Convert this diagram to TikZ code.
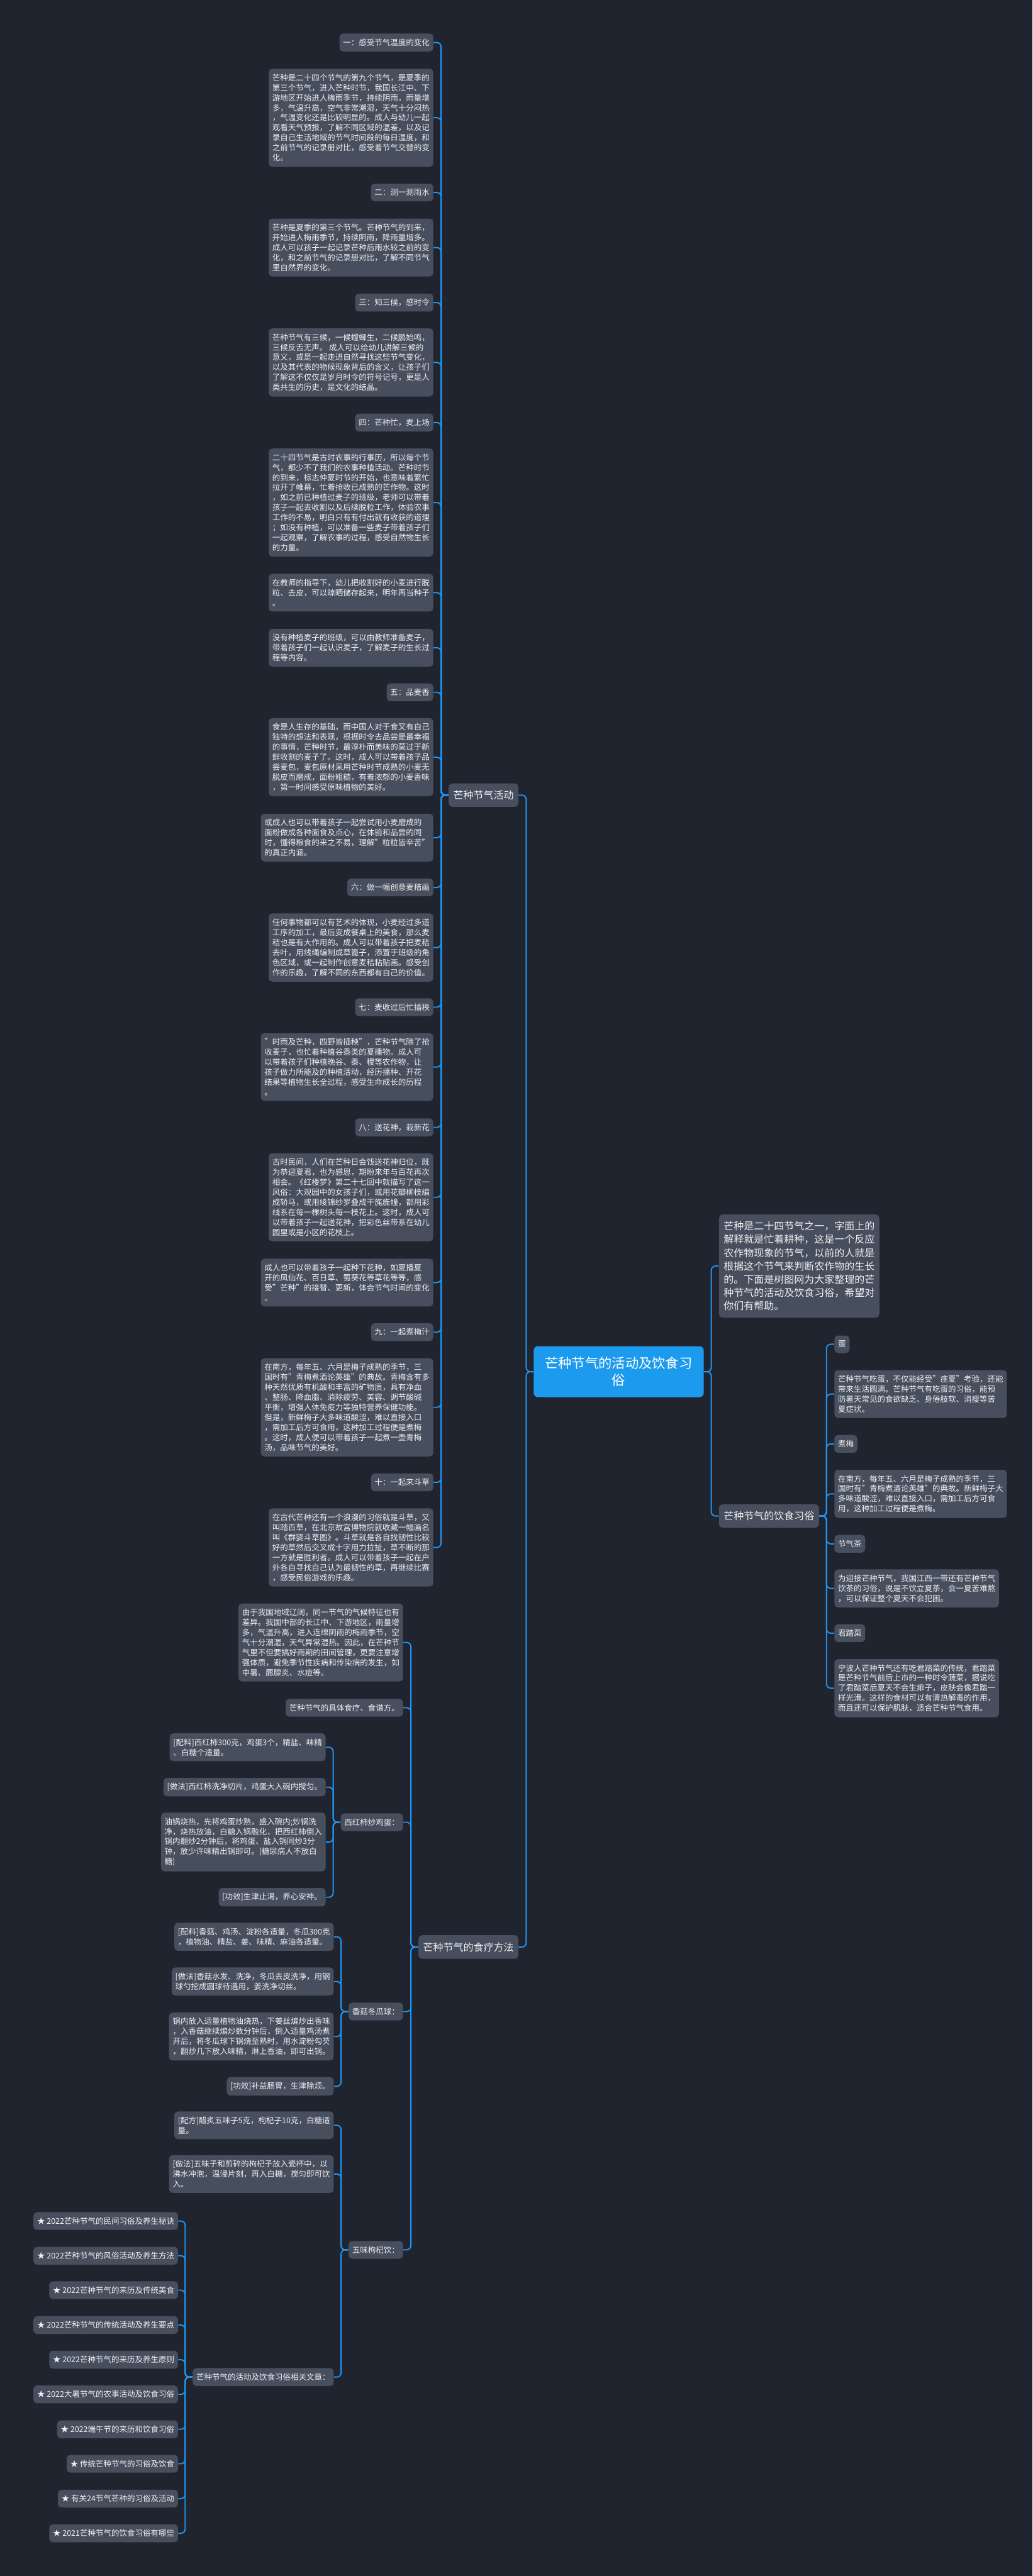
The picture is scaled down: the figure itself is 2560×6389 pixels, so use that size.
\documentclass[tikz,border=0pt]{standalone}
\usepackage{fontspec}
\setmainfont{Noto Sans CJK SC}
\usepackage{tikz}
\usepackage{xcolor}

\definecolor{bgnavy}{HTML}{20242F}
\definecolor{cardgray}{HTML}{474E5E}
\definecolor{cardtext}{HTML}{F0F0F0}
\definecolor{linkblue}{HTML}{2196F3}
\definecolor{rootblue}{HTML}{1C9AEE}

\newcommand\cardfont{\fontsize{5.55pt}{7.08pt}\selectfont}
\newcommand\branchfont{\fontsize{7.1pt}{9.39pt}\selectfont}
\newcommand\rootfont{\fontsize{9.45pt}{12.2pt}\selectfont}

\tikzset{
  card/.style={fill=cardgray, text=cardtext, rounded corners=2.5pt, inner xsep=2.56pt, inner ysep=3.7pt, align=left, font=\cardfont},
  leftcard/.style={card, anchor=east},
  rightcard/.style={card, anchor=west},
  branch/.style={card, font=\branchfont, inner xsep=3.3pt, inner ysep=5pt},
  rootnode/.style={fill=rootblue, text=white, rounded corners=3pt, inner xsep=8pt, inner ysep=7.5pt, align=center, font=\rootfont},
  link/.style={draw=linkblue, line width=0.85pt, rounded corners=3pt},
}

\begin{document}
\begin{tikzpicture}[x=0.1mm, y=-0.1mm]
    \fill[bgnavy] (0,0) rectangle (2560,6389);
    \useasboundingbox (0,0) rectangle (2560,6389);

    % 中心主题
    \node[rootnode] (root) at (1534,3402) {芒种节气的活动及饮食习\\俗};

    % 芒种节气活动
    \node[branch, anchor=east] (act) at (1286,1972) {芒种节气活动};
    \node[leftcard] (a1) at (1075,105.5) {一：感受节气温度的变化};
    \node[leftcard] (a2) at (1075,292) {芒种是二十四个节气的第九个节气，是夏季的\\第三个节气，进入芒种时节，我国长江中、下\\游地区开始进人梅雨季节，持续阴雨，雨量增\\多，气温升高，空气非常潮湿，天气十分闷热\\，气温变化还是比较明显的。成人与幼儿一起\\观看天气预报，了解不同区域的温差，以及记\\录自己生活地域的节气时间段的每日温度，和\\之前节气的记录册对比，感受着节气交替的变\\化。};
    \node[leftcard] (a3) at (1075,477.5) {二：测一测雨水};
    \node[leftcard] (a4) at (1075,614) {芒种是夏季的第三个节气。芒种节气的到来，\\开始进人梅雨季节，持续阴雨，降雨量增多。\\成人可以孩子一起记录芒种后雨水较之前的变\\化，和之前节气的记录册对比，了解不同节气\\里自然界的变化。};
    \node[leftcard] (a5) at (1075,750.5) {三：知三候，感时令};
    \node[leftcard] (a6) at (1075,899) {芒种节气有三候，一候螳螂生，二候鹏始鸣，\\三候反舌无声。 成人可以给幼儿讲解三候的\\意义，或是一起走进自然寻找这些节气变化，\\以及其代表的物候现象背后的含义，让孩子们\\了解这不仅仅是岁月时令的符号记号，更是人\\类共生的历史，是文化的结晶。};
    \node[leftcard] (a7) at (1075,1048) {四：芒种忙，麦上场};
    \node[leftcard] (a8) at (1075,1246.5) {二十四节气是古时农事的行事历，所以每个节\\气，都少不了我们的农事种植活动。芒种时节\\的到来，标志仲夏时节的开始，也意味着繁忙\\拉开了帷幕，忙着抢收已成熟的芒作物。这时\\，如之前已种植过麦子的班级，老师可以带着\\孩子一起去收割以及后续脱粒工作，体验农事\\工作的不易，明白只有有付出就有收获的道理\\；如没有种植，可以准备一些麦子带着孩子们\\一起观察，了解农事的过程，感受自然物生长\\的力量。};
    \node[leftcard] (a9) at (1075,1470) {在教师的指导下，幼儿把收割好的小麦进行脱\\粒、去皮，可以晾晒储存起来，明年再当种子\\。};
    \node[leftcard] (a10) at (1075,1606.5) {没有种植麦子的班级，可以由教师准备麦子，\\带着孩子们一起认识麦子，了解麦子的生长过\\程等内容。};
    \node[leftcard] (a11) at (1075,1717) {五：品麦香};
    \node[leftcard] (a12) at (1075,1878) {食是人生存的基础，而中国人对于食又有自己\\独特的想法和表现，根据时令去品尝是最幸福\\的事情，芒种时节，最淳朴而美味的莫过于新\\鲜收割的麦子了。这时，成人可以带着孩子品\\尝麦包，麦包原材采用芒种时节成熟的小麦无\\脱皮而磨成，面粉粗糙，有着浓郁的小麦香味\\，第一时间感受原味植物的美好。};
    \node[leftcard] (a13) at (1075,2077.5) {或成人也可以带着孩子一起尝试用小麦磨成的\\面粉做成各种面食及点心，在体验和品尝的同\\时，懂得粮食的来之不易，理解"粒粒皆辛苦"\\的真正内涵。};
    \node[leftcard] (a14) at (1075,2201) {六：做一幅创意麦秸画};
    \node[leftcard] (a15) at (1075,2350) {任何事物都可以有艺术的体现，小麦经过多道\\工序的加工，最后变成餐桌上的美食，那么麦\\秸也是有大作用的。成人可以带着孩子把麦秸\\去叶，用线绳编制成草篦子，添置于班级的角\\色区域，或一起制作创意麦秸粘贴画。感受创\\作的乐趣，了解不同的东西都有自己的价值。};
    \node[leftcard] (a16) at (1075,2498) {七：麦收过后忙插秧};
    \node[leftcard] (a17) at (1075,2646.5) {"时雨及芒种，四野皆插秧"，芒种节气除了抢\\收麦子，也忙着种植谷黍类的夏播物。成人可\\以带着孩子们种植晚谷、黍、稷等农作物，让\\孩子做力所能及的种植活动，经历播种、开花\\结果等植物生长全过程，感受生命成长的历程\\。};
    \node[leftcard] (a18) at (1075,2796) {八：送花神，栽新花};
    \node[leftcard] (a19) at (1075,2969.5) {古时民间，人们在芒种日会饯送花神归位，既\\为恭迎夏君，也为感恩，期盼来年与百花再次\\相会。《红楼梦》第二十七回中就描写了这一\\风俗：大观园中的女孩子们，或用花瓣柳枝编\\成轿马，或用绫锦纱罗叠成干旄旌幢，都用彩\\线系在每一棵树头每一枝花上。这时，成人可\\以带着孩子一起送花神，把彩色丝带系在幼儿\\园里或是小区的花枝上。};
    \node[leftcard] (a20) at (1075,3181) {成人也可以带着孩子一起种下花种，如夏播夏\\开的凤仙花、百日草、蜀葵花等草花等等，感\\受"芒种"的接替、更新，体会节气时间的变化\\。};
    \node[leftcard] (a21) at (1075,3304) {九：一起煮梅汁};
    \node[leftcard] (a22) at (1075,3490.5) {在南方，每年五、六月是梅子成熟的季节，三\\国时有"青梅煮酒论英雄"的典故。青梅含有多\\种天然优质有机酸和丰富的矿物质，具有净血\\、整肠、降血脂、消除疲劳、美容、调节酸碱\\平衡，增强人体免疫力等独特营养保健功能。\\但是，新鲜梅子大多味道酸涩，难以直接入口\\，需加工后方可食用，这种加工过程便是煮梅\\。这时，成人便可以带着孩子一起煮一壶青梅\\汤，品味节气的美好。};
    \node[leftcard] (a23) at (1075,3676.5) {十：一起来斗草};
    \node[leftcard] (a24) at (1075,3838) {在古代芒种还有一个浪漫的习俗就是斗草，又\\叫踏百草，在北京故宫博物院就收藏一幅画名\\叫《群婴斗草图》。斗草就是各自找韧性比较\\好的草然后交叉成十字用力拉扯，草不断的那\\一方就是胜利者。成人可以带着孩子一起在户\\外各自寻找自己认为最韧性的草，再继续比赛\\，感受民俗游戏的乐趣。};

    % 芒种节气的食疗方法
    \node[branch, anchor=east] (food) at (1286,4829) {芒种节气的食疗方法};
    \node[leftcard] (f1) at (1000,4073.5) {由于我国地域辽阔，同一节气的气候特征也有\\差异。我国中部的长江中、下游地区，雨量增\\多，气温升高，进入连绵阴雨的梅雨季节，空\\气十分潮湿，天气异常湿热。因此，在芒种节\\气里不但要搞好雨期的田间管理，更要注意增\\强体质，避免季节性疾病和传染病的发生，如\\中暑、腮腺炎、水痘等。};
    \node[leftcard] (f2) at (1000,4235.5) {芒种节气的具体食疗、食谱方。};
    \node[leftcard] (tomato) at (1000,4519.5) {西红柿炒鸡蛋：};
    \node[leftcard] (mushroom) at (1000,4989) {香菇冬瓜球：};
    \node[leftcard] (wuwei) at (1000,5580) {五味枸杞饮：};

    \node[leftcard] (t1) at (808,4333.5) {[配料]西红柿300克，鸡蛋3个，精盐、味精\\、白糖个适量。};
    \node[leftcard] (t2) at (808,4432.5) {[做法]西红柿洗净切片，鸡蛋大入碗内搅匀。};
    \node[leftcard] (t3) at (808,4568.5) {油锅烧热，先将鸡蛋炒熟，盛入碗内;炒锅洗\\净，烧热放油，白糖入锅融化，把西红柿倒入\\锅内翻炒2分钟后，将鸡蛋、盐入锅同炒3分\\钟，放少许味精出锅即可。(糖尿病人不放白\\糖)};
    \node[leftcard] (t4) at (808,4705.5) {[功效]生津止渴，养心安神。};

    \node[leftcard] (m1) at (828,4803.5) {[配料]香菇、鸡汤、淀粉各适量，冬瓜300克\\，植物油、精盐、姜、味精、麻油各适量。};
    \node[leftcard] (m2) at (828,4914.5) {[做法]香菇水发、洗净，冬瓜去皮洗净，用钢\\球勺挖成圆球待遇用，姜洗净切丝。};
    \node[leftcard] (m3) at (828,5051) {锅内放入适量植物油烧热，下姜丝煸炒出香味\\，入香菇继续煸炒数分钟后，倒入适量鸡汤煮\\开后，将冬瓜球下锅烧至熟时，用水淀粉勾芡\\，翻炒几下放入味精，淋上香油，即可出锅。};
    \node[leftcard] (m4) at (828,5174.5) {[功效]补益肠胃，生津除烦。};

    \node[leftcard] (w1) at (828,5271) {[配方]醋炙五味子5克，枸杞子10克，白糖适\\量。};
    \node[leftcard] (w2) at (828,5392) {[做法]五味子和剪碎的枸杞子放入瓷杯中，以\\沸水冲泡，温浸片刻，再入白糖，搅匀即可饮\\入。};
    \node[leftcard] (more) at (828,5895.5) {芒种节气的活动及饮食习俗相关文章：};

    % 相关文章
    \node[leftcard] (r1) at (442,5508.5) {★ 2022芒种节气的民间习俗及养生秘诀};
    \node[leftcard] (r2) at (442,5594.5) {★ 2022芒种节气的风俗活动及养生方法};
    \node[leftcard] (r3) at (442,5680) {★ 2022芒种节气的来历及传统美食};
    \node[leftcard] (r4) at (442,5766.5) {★ 2022芒种节气的传统活动及养生要点};
    \node[leftcard] (r5) at (442,5852.5) {★ 2022芒种节气的来历及养生原则};
    \node[leftcard] (r6) at (442,5938.5) {★ 2022大暑节气的农事活动及饮食习俗};
    \node[leftcard] (r7) at (442,6025) {★ 2022端午节的来历和饮食习俗};
    \node[leftcard] (r8) at (442,6110.5) {★ 传统芒种节气的习俗及饮食};
    \node[leftcard] (r9) at (442,6197) {★ 有关24节气芒种的习俗及活动};
    \node[leftcard] (r10) at (442,6283) {★ 2021芒种节气的饮食习俗有哪些};

    % 右侧：导语与饮食习俗
    \node[branch, anchor=west] (intro) at (1782,3140) {芒种是二十四节气之一，字面上的\\解释就是忙着耕种，这是一个反应\\农作物现象的节气，以前的人就是\\根据这个节气来判断农作物的生长\\的。下面是树图网为大家整理的芒\\种节气的活动及饮食习俗，希望对\\你们有帮助。};
    \node[branch, anchor=west] (diet) at (1782,3760) {芒种节气的饮食习俗};
    \node[rightcard] (d1) at (2068,3334) {蛋};
    \node[rightcard] (d2) at (2068,3457.5) {芒种节气吃蛋，不仅能经受"疰夏"考验，还能\\带来生活圆满。芒种节气有吃蛋的习俗，能预\\防暑天常见的食欲缺乏、身倦肢软、消瘦等苦\\夏症状。};
    \node[rightcard] (d3) at (2068,3581) {煮梅};
    \node[rightcard] (d4) at (2068,3705) {在南方，每年五、六月是梅子成熟的季节，三\\国时有"青梅煮酒论英雄"的典故。新鲜梅子大\\多味道酸涩，难以直接入口，需加工后方可食\\用，这种加工过程便是煮梅。};
    \node[rightcard] (d5) at (2068,3829) {节气茶};
    \node[rightcard] (d6) at (2068,3939.5) {为迎接芒种节气，我国江西一带还有芒种节气\\饮茶的习俗，说是不饮立夏茶，会一夏苦难熬\\，可以保证整个夏天不会犯困。};
    \node[rightcard] (d7) at (2068,4050.5) {君踏菜};
    \node[rightcard] (d8) at (2068,4187) {宁波人芒种节气还有吃君踏菜的传统，君踏菜\\是芒种节气前后上市的一种时令蔬菜，据说吃\\了君踏菜后夏天不会生痱子，皮肤会像君踏一\\样光滑。这样的食材可以有清热解毒的作用，\\而且还可以保护肌肤，适合芒种节气食用。};

    % 连线
    \foreach \kid in {act,food}
        \draw[link] (root.west) -- ++(-18,0) |- (\kid.east);
    \foreach \kid in {intro,diet}
        \draw[link] (root.east) -- ++(18,0) |- (\kid.west);
    \foreach \kid in {a1,a2,a3,a4,a5,a6,a7,a8,a9,a10,a11,a12,a13,a14,a15,a16,a17,a18,a19,a20,a21,a22,a23,a24}
        \draw[link] (act.west) -- ++(-18,0) |- (\kid.east);
    \foreach \kid in {f1,f2,tomato,mushroom,wuwei}
        \draw[link] (food.west) -- ++(-18,0) |- (\kid.east);
    \foreach \kid in {t1,t2,t3,t4}
        \draw[link] (tomato.west) -- ++(-18,0) |- (\kid.east);
    \foreach \kid in {m1,m2,m3,m4}
        \draw[link] (mushroom.west) -- ++(-18,0) |- (\kid.east);
    \foreach \kid in {w1,w2,more}
        \draw[link] (wuwei.west) -- ++(-18,0) |- (\kid.east);
    \foreach \kid in {r1,r2,r3,r4,r5,r6,r7,r8,r9,r10}
        \draw[link] (more.west) -- ++(-18,0) |- (\kid.east);
    \foreach \kid in {d1,d2,d3,d4,d5,d6,d7,d8}
        \draw[link] (diet.east) -- ++(18,0) |- (\kid.west);
\end{tikzpicture}
\end{document}
